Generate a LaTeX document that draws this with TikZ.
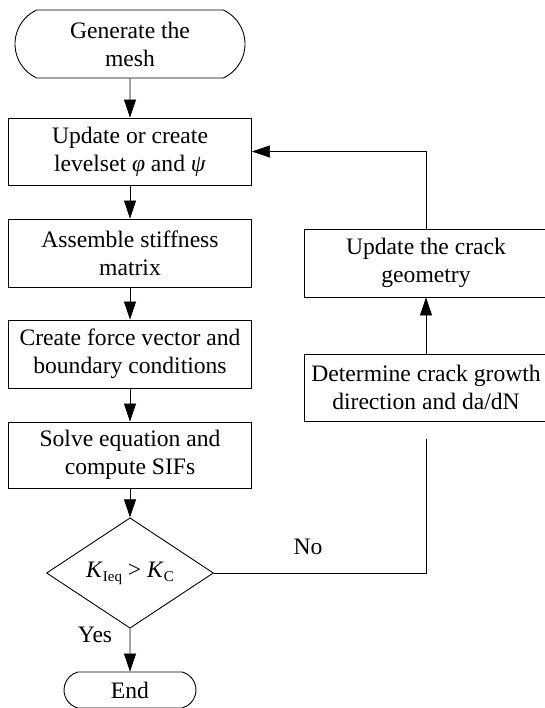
\documentclass[tikz,border=0pt]{standalone}
\usepackage{fontspec}
\setmainfont{Liberation Serif}
\usetikzlibrary{arrows.meta,shapes.geometric,shapes.misc}
\begin{document}
\begin{tikzpicture}[x=1pt,y=-1pt,
  every node/.style={font=\fontsize{23.6}{28}\selectfont},
  procbox/.style={draw,line width=0.9pt,rectangle,align=center,inner sep=0pt,minimum width=243pt},
  termbox/.style={draw,line width=0.9pt,rounded rectangle,align=center,inner sep=0pt},
  decbox/.style={draw,line width=0.9pt,diamond,inner sep=0pt,minimum width=167pt,minimum height=100pt},
  conn/.style={line width=0.7pt,-{Triangle[length=18pt,width=12pt]}},
  plainconn/.style={line width=0.7pt},
  lbl/.style={inner sep=0pt}
]
\useasboundingbox (0,0) rectangle (545,708);
\clip (0,0) rectangle (545,708);
\node[termbox,rounded rectangle arc length=130,minimum width=230pt,minimum height=68pt] (start) at (130,44) {Generate the\\mesh};
\node[procbox,minimum height=67pt] (b1) at (130,151.5) {Update or create\\levelset \textit{φ} and \textit{ψ}};
\node[procbox,minimum height=68pt] (b2) at (130,253) {Assemble stiffness\\matrix};
\node[procbox,minimum height=68pt] (b3) at (130,354) {Create force vector and\\boundary conditions};
\node[procbox,minimum height=66pt] (b4) at (130,455) {Solve equation and\\compute SIFs};
\node[decbox] (dec) at (130,573) {\textit{K}\raisebox{-4pt}{\fontsize{15}{15}\selectfont Ieq} > \textit{K}\raisebox{-4pt}{\fontsize{15}{15}\selectfont C}};
\node[termbox,rounded rectangle arc length=150,minimum width=132pt,minimum height=36pt] (stop) at (130,690) {End};
\node[procbox,minimum width=244pt,minimum height=68pt] (upd) at (426,263) {Update the crack\\geometry};
\node[procbox,minimum width=244pt,minimum height=67pt] (det) at (426,387.5) {Determine crack growth\\direction and da/dN};
\coordinate (noend) at (426,439);
\node[lbl] (nolbl) at (308,547) {No};
\node[lbl] (yeslbl) at (95,635) {Yes};
\draw[conn] (start) -- (b1);
\draw[conn] (b1) -- (b2);
\draw[conn] (b2) -- (b3);
\draw[conn] (b3) -- (b4);
\draw[conn] (b4) -- (dec);
\draw[conn] (dec) -- (stop);
\draw[conn] (det) -- (upd);
\draw[conn] (upd.north) |- (b1.east);
\draw[plainconn] (dec.east) -| (noend);
\end{tikzpicture}
\end{document}
